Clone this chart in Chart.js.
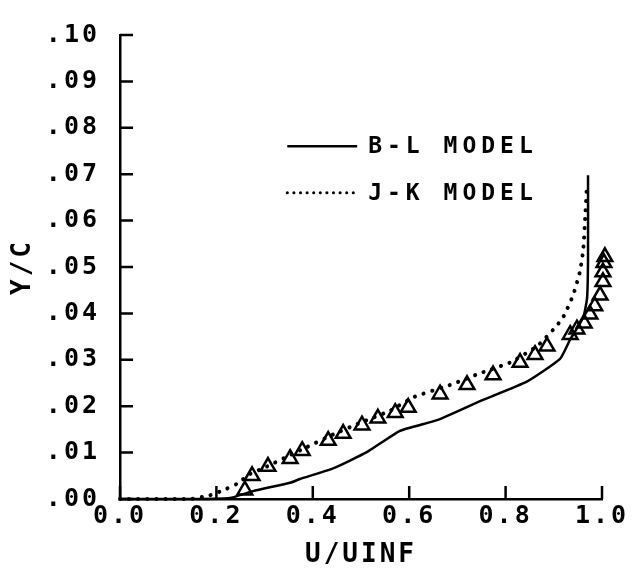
<!DOCTYPE html>
<html>
<head>
<meta charset="utf-8">
<script src="https://cdn.jsdelivr.net/npm/chart.js@4.4.0/dist/chart.umd.min.js"></script>
<style>
  html, body { margin: 0; padding: 0; background: #fff; }
  #wrap { width: 643px; height: 569px; }
</style>
</head>
<body>
<div id="wrap"><canvas id="profile"></canvas></div>
<script>
// velocity profile, U/UINF vs Y/C
let blU = [0.000, 0.166, 0.228, 0.276, 0.353, 0.373, 0.442, 0.512, 0.581, 0.658, 0.747, 0.844, 0.913, 0.934, 0.961, 0.969, 0.971, 0.971];
let blY = [0.0000, 0.0000, 0.0002, 0.0017, 0.0035, 0.0043, 0.0066, 0.0101, 0.0147, 0.0170, 0.0211, 0.0253, 0.0302, 0.0344, 0.0391, 0.0433, 0.0516, 0.0698];

let jkU = [0.000, 0.145, 0.187, 0.214, 0.243, 0.270, 0.305, 0.346, 0.388, 0.442, 0.498, 0.560, 0.608, 0.691, 0.747, 0.809, 0.865, 0.898, 0.919, 0.940, 0.954, 0.961, 0.965, 0.969];
let jkY = [0.0000, 0.0000, 0.0008, 0.0019, 0.0033, 0.0054, 0.0070, 0.0091, 0.0112, 0.0139, 0.0164, 0.0190, 0.0219, 0.0248, 0.0271, 0.0294, 0.0329, 0.0364, 0.0391, 0.0439, 0.0489, 0.0536, 0.0605, 0.0681];

// measured points, listed from the outer edge in towards the wall
let expU = [1.006, 1.004, 1.002, 1.002, 0.996, 0.985, 0.975, 0.963, 0.948, 0.934, 0.886, 0.861, 0.830, 0.774, 0.720, 0.664, 0.598, 0.571, 0.535, 0.502, 0.463, 0.432, 0.378, 0.353, 0.307, 0.274, 0.259];
let expY = [0.0522, 0.0509, 0.0489, 0.0468, 0.0439, 0.0416, 0.0398, 0.0379, 0.0366, 0.0354, 0.0329, 0.0311, 0.0294, 0.0267, 0.0246, 0.0226, 0.0197, 0.0186, 0.0174, 0.0159, 0.0141, 0.0126, 0.0104, 0.0087, 0.0070, 0.0050, 0.0019];

let xTicks = [0.0, 0.2, 0.4, 0.6, 0.8, 1.0];
let yTicks = [0.00, 0.01, 0.02, 0.03, 0.04, 0.05, 0.06, 0.07, 0.08, 0.09, 0.10];
let seriesLabels = ['B-L MODEL', 'J-K MODEL', 'EXPERIMENT'];

const FONT = "'DejaVu Sans Mono', 'Liberation Mono', monospace";

function toPoints(xs, ys) {
    let pts = [];
    for (let i = 0; i < xs.length; i++) {
        pts.push({ x: xs[i], y: ys[i] });
    }
    return pts;
}

// the plotter lettering is spaced out a bit
const wideText = {
    id: 'wideText',
    beforeDraw(chart) { chart.ctx.letterSpacing = '3px'; },
    afterDraw(chart) { chart.ctx.letterSpacing = '0px'; }
};

// ticks in the original point inward from the axes
const inwardTicks = {
    id: 'inwardTicks',
    afterDraw(chart) {
        let ctx = chart.ctx;
        let xs = chart.scales.x, ys = chart.scales.y;
        let area = chart.chartArea;
        ctx.save();
        ctx.strokeStyle = '#000';
        ctx.lineWidth = 2.5;
        ctx.beginPath();
        xTicks.forEach(function (v) {
            let px = xs.getPixelForValue(v);
            ctx.moveTo(px, area.bottom);
            ctx.lineTo(px, area.bottom - 13);
        });
        yTicks.forEach(function (v) {
            let py = ys.getPixelForValue(v);
            ctx.moveTo(area.left, py);
            ctx.lineTo(area.left + 13, py);
        });
        ctx.stroke();
        ctx.restore();
    }
};

// legend sits inside the plot, as in the original
const innerLegend = {
    id: 'innerLegend',
    afterDraw(chart) {
        let ctx = chart.ctx;
        let xs = chart.scales.x, ys = chart.scales.y;
        let x0 = xs.getPixelForValue(0.347);
        let x1 = xs.getPixelForValue(0.492);
        let rows = [0.0760, 0.0660];
        ctx.save();
        for (let i = 0; i < 2; i++) {
            let ds = chart.data.datasets[i];
            let y = ys.getPixelForValue(rows[i]);
            ctx.beginPath();
            ctx.strokeStyle = '#000';
            if (i === 0) {
                ctx.lineWidth = 2.5;
                ctx.setLineDash([]);
                ctx.lineCap = 'butt';
            } else {
                ctx.lineWidth = 3;
                ctx.setLineDash([0.1, 6.5]);
                ctx.lineCap = 'round';
            }
            ctx.moveTo(x0, y);
            ctx.lineTo(x1, y);
            ctx.stroke();
            ctx.setLineDash([]);
            ctx.fillStyle = '#000';
            ctx.font = "bold 23px " + FONT;
            ctx.letterSpacing = '5px';
            ctx.textAlign = 'left';
            ctx.textBaseline = 'middle';
            ctx.fillText(ds.label, x1 + 11, y + 1);
        }
        ctx.restore();
    }
};

let ctx = document.getElementById('profile').getContext('2d');
let profileChart = new Chart(ctx, {
    type: 'scatter',
    data: {
        datasets: [
            {
                label: seriesLabels[0],
                data: toPoints(blU, blY),
                showLine: true,
                borderColor: '#000',
                borderWidth: 2.5,
                pointRadius: 0,
                tension: 0.15,
                clip: false
            },
            {
                label: seriesLabels[1],
                data: toPoints(jkU, jkY),
                showLine: true,
                borderColor: '#000',
                borderWidth: 4,
                borderDash: [0.1, 9],
                borderCapStyle: 'round',
                pointRadius: 0,
                tension: 0.15,
                clip: false
            },
            {
                label: seriesLabels[2],
                data: toPoints(expU, expY),
                showLine: false,
                pointStyle: 'triangle',
                pointRadius: 8.5,
                pointBorderWidth: 2.5,
                pointBorderColor: '#000',
                pointBackgroundColor: 'rgba(255,255,255,0)',
                clip: false
            }
        ]
    },
    options: {
        responsive: true,
        maintainAspectRatio: false,
        animation: false,
        devicePixelRatio: 1,
        layout: { padding: { top: 16, right: 41, bottom: 0, left: 0 } },
        plugins: {
            legend: { display: false },
            tooltip: { enabled: false }
        },
        scales: {
            x: {
                type: 'linear',
                min: 0,
                max: 1,
                afterFit(scale) { scale.height = 70; },
                afterBuildTicks(scale) { scale.ticks = xTicks.map(function (v) { return { value: v }; }); },
                grid: { display: true, drawOnChartArea: false, drawTicks: false },
                border: { display: true, color: '#000', width: 2.5 },
                ticks: {
                    color: '#000',
                    padding: 2,
                    maxRotation: 0,
                    font: { family: FONT, size: 25, weight: 'bold' },
                    callback: function (v) { return Number(v).toFixed(1); }
                },
                title: {
                    display: true,
                    text: 'U/UINF',
                    color: '#000',
                    padding: { top: 0, bottom: -2 },
                    font: { family: FONT, size: 26, weight: 'bold' }
                }
            },
            y: {
                type: 'linear',
                min: 0,
                max: 0.1,
                afterFit(scale) { scale.width = 120; },
                afterBuildTicks(scale) { scale.ticks = yTicks.map(function (v) { return { value: v }; }); },
                grid: { display: true, drawOnChartArea: false, drawTicks: false },
                border: { display: true, color: '#000', width: 2.5 },
                ticks: {
                    color: '#000',
                    padding: 20,
                    font: { family: FONT, size: 25, weight: 'bold' },
                    callback: function (v) { return Number(v).toFixed(2).replace(/^0/, ''); }
                },
                title: {
                    display: true,
                    text: 'Y/C',
                    color: '#000',
                    padding: { top: 8, bottom: 0 },
                    font: { family: FONT, size: 26, weight: 'bold' }
                }
            }
        }
    },
    plugins: [wideText, inwardTicks, innerLegend]
});
</script>
</body>
</html>
